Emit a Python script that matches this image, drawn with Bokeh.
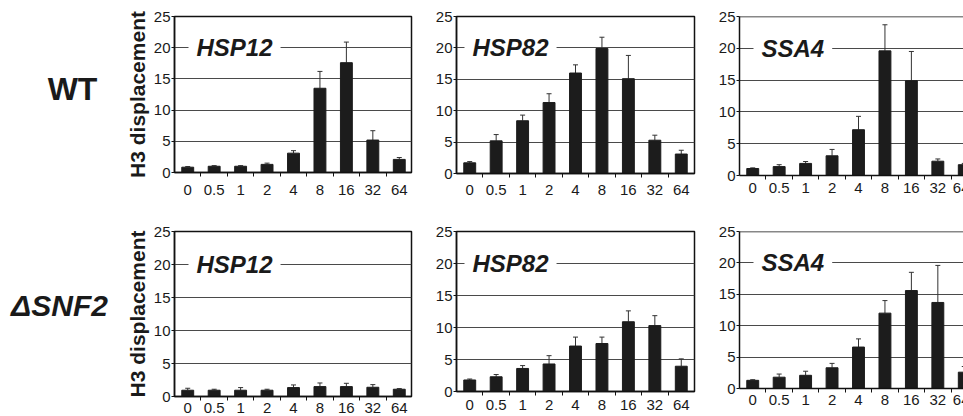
from bokeh.plotting import figure
from bokeh.models import Range1d, FixedTicker, Whisker, TeeHead, ColumnDataSource, Label, Span
from bokeh.layouts import column, row
from bokeh.core.properties import value
from bokeh.embed import file_html
from bokeh.resources import INLINE

# ---- data -------------------------------------------------------------
times = ["0", "0.5", "1", "2", "4", "8", "16", "32", "64"]

wt_hsp12 = [0.85, 1.0, 1.0, 1.3, 3.1, 13.5, 17.6, 5.2, 2.1]
wt_hsp12_err = [0.1, 0.1, 0.1, 0.2, 0.4, 2.7, 3.3, 1.5, 0.3]
wt_hsp82 = [1.7, 5.2, 8.4, 11.3, 16.0, 19.9, 15.1, 5.3, 3.1]
wt_hsp82_err = [0.2, 1.0, 0.9, 1.4, 1.3, 1.8, 3.7, 0.8, 0.6]
wt_ssa4 = [1.1, 1.4, 1.9, 3.1, 7.2, 19.6, 14.9, 2.25, 1.7]
wt_ssa4_err = [0.1, 0.3, 0.3, 1.0, 2.1, 4.1, 4.6, 0.35, 0.2]

snf2_hsp12 = [0.95, 0.95, 0.95, 0.95, 1.35, 1.5, 1.5, 1.4, 1.1]
snf2_hsp12_err = [0.3, 0.15, 0.4, 0.15, 0.4, 0.55, 0.5, 0.4, 0.1]
snf2_hsp82 = [1.8, 2.3, 3.6, 4.3, 7.1, 7.5, 10.9, 10.3, 3.95]
snf2_hsp82_err = [0.15, 0.35, 0.45, 1.3, 1.4, 1.0, 1.7, 1.55, 1.15]
snf2_ssa4 = [1.3, 1.8, 2.1, 3.3, 6.6, 12.0, 15.6, 13.7, 2.6]
snf2_ssa4_err = [0.1, 0.5, 0.65, 0.7, 1.3, 2.0, 2.9, 5.9, 0.9]

genes = ["HSP12", "HSP82", "SSA4"]
strains = ["WT", "\u0394SNF2"]
y_ticks = [0, 5, 10, 15, 20, 25]
y_label = "H3 displacement"

FONT = "Liberation Sans"
N = len(times)
idx = list(range(N))
FULL_W = 238
PAD = 8
LAB_W = 120


def make_panel(vals, errs, gene, frame_w, frame_h, borders, gene_dx,
               label_standoff, first_col=False, last_col=False):
    left, right, top, bottom = borders
    x_end = -0.5 + N * frame_w / FULL_W
    p = figure(frame_width=frame_w, frame_height=frame_h,
               min_border_left=left, min_border_right=right,
               min_border_top=top, min_border_bottom=bottom,
               x_range=Range1d(-0.5, x_end), y_range=Range1d(y_ticks[0], y_ticks[-1]),
               output_backend="svg", toolbar_location=None, tools="")
    p.background_fill_color = "white"
    p.border_fill_color = "white"

    src = ColumnDataSource(dict(x=idx, top=vals,
                                upper=[v + e for v, e in zip(vals, errs)]))
    p.vbar(x="x", top="top", width=0.45, bottom=0, source=src,
           fill_color="#1c1c1c", line_color="#1c1c1c")
    p.add_layout(Whisker(source=src, base="x", lower="top", upper="upper",
                         lower_head=None,
                         upper_head=TeeHead(size=5, line_color="#333333", line_width=1),
                         line_color="#333333", line_width=1))

    # grid
    p.xgrid.visible = False
    p.ygrid.ticker = FixedTicker(ticks=y_ticks)
    p.ygrid.grid_line_color = "#4a4a4a"
    p.ygrid.grid_line_width = 1

    # x axis
    xa = p.xaxis[0]
    xa.ticker = FixedTicker(ticks=idx, minor_ticks=[i + 0.5 for i in idx[:-1]])
    xa.major_label_overrides = {i: t for i, t in zip(idx, times)}
    xa.major_tick_line_color = None
    xa.major_tick_out = 0
    xa.major_tick_in = 0
    xa.minor_tick_out = 4
    xa.minor_tick_in = 0
    xa.minor_tick_line_color = "#111111"
    xa.axis_line_color = "#111111"
    xa.axis_line_width = 1.5
    xa.major_label_standoff = label_standoff
    xa.major_label_text_font = FONT
    xa.major_label_text_font_size = "15px"
    xa.major_label_text_color = "#1a1a1a"

    # y axis
    ya = p.yaxis[0]
    ya.ticker = FixedTicker(ticks=y_ticks)
    ya.minor_tick_line_color = None
    ya.major_tick_out = 3
    ya.major_tick_in = 0
    ya.major_tick_line_color = "#111111"
    ya.axis_line_color = "#111111"
    ya.axis_line_width = 1.5
    ya.major_label_standoff = 1
    ya.major_label_text_font = FONT
    ya.major_label_text_font_size = "15px"
    ya.major_label_text_color = "#1a1a1a"
    if first_col:
        ya.axis_label = y_label
        ya.axis_label_text_font = FONT
        ya.axis_label_text_font_style = "bold"
        ya.axis_label_text_font_size = "21px"
        ya.axis_label_text_color = "#1a1a1a"
        ya.axis_label_standoff = 2

    if last_col:
        p.outline_line_color = None
        p.add_layout(Span(location=y_ticks[-1], dimension="width",
                          line_color="#111111", line_width=1.5))
    else:
        p.outline_line_color = "#111111"
        p.outline_line_width = 1.5
        p.outline_line_alpha = 1.0

    p.add_layout(Label(x=-0.5, y=20, x_offset=gene_dx - PAD, text=gene,
                       text_font=FONT, text_font_style="bold italic",
                       text_font_size="24px", text_color="#1a1a1a",
                       text_baseline="middle", text_align="left",
                       background_fill_color="white", padding=PAD))
    return p


def make_row_label(text, height, cx, cy, style, size):
    # narrow figure holding the strain name; ranges map 1:1 to pixels
    f = figure(width=LAB_W, height=height, x_range=Range1d(0, LAB_W),
               y_range=Range1d(height, 0), min_border=0,
               x_axis_type=None, y_axis_type=None,
               output_backend="svg", toolbar_location=None, tools="")
    f.outline_line_color = None
    f.grid.visible = False
    f.background_fill_color = "white"
    f.border_fill_color = "white"
    f.text(x=[cx], y=[cy], text=[text], text_font=value(FONT),
           text_font_style=style, text_font_size=size, text_color="#1a1a1a",
           text_align="center", text_baseline="middle")
    return f


TOP_H = 14 + 156 + 35
BOT_H = 23 + 165 + 23

lab1 = make_row_label(strains[0], TOP_H, 72, 97, "bold", "32px")
lab2 = make_row_label(strains[1], BOT_H, 59, 100, "bold italic", "30px")

L1 = 174 - LAB_W
p1 = make_panel(wt_hsp12, wt_hsp12_err, genes[0], 237, 156, (L1, 21, 14, 35), 22, 8, first_col=True)
p2 = make_panel(wt_hsp82, wt_hsp82_err, genes[1], 238, 157, (21, 21, 14, 34), 16, 7)
p3 = make_panel(wt_ssa4, wt_ssa4_err, genes[2], 230, 159, (21, 0, 16, 30), 22, 3, last_col=True)

p4 = make_panel(snf2_hsp12, snf2_hsp12_err, genes[0], 237, 165, (L1, 21, 23, 23), 22, 2, first_col=True)
p5 = make_panel(snf2_hsp82, snf2_hsp82_err, genes[1], 238, 160, (21, 21, 24, 27), 16, 4)
p6 = make_panel(snf2_ssa4, snf2_ssa4_err, genes[2], 230, 157, (21, 0, 26, 28), 22, 2, last_col=True)

layout = column(row(lab1, p1, p2, p3), row(lab2, p4, p5, p6))

open("out.html", "w").write(file_html(layout, INLINE))
